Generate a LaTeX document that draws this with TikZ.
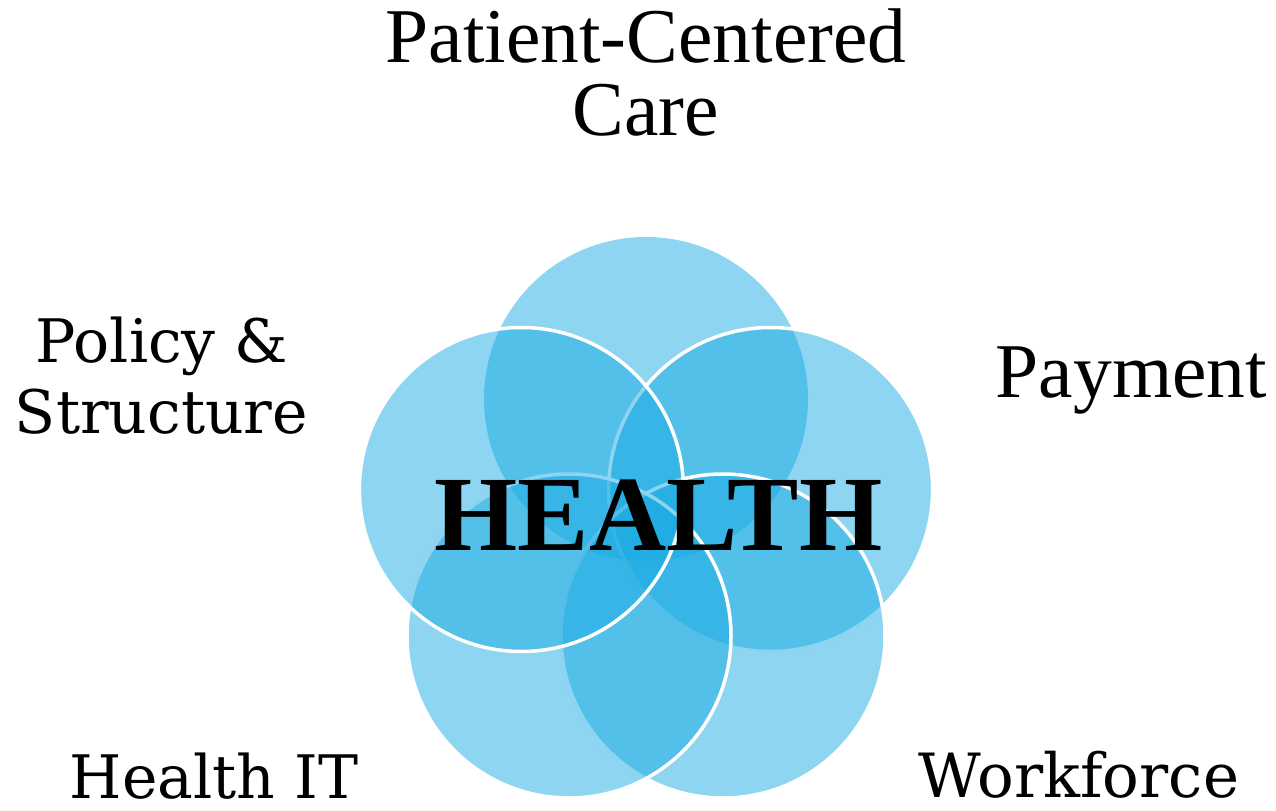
\documentclass[tikz,border=0pt]{standalone}
\usepackage{fontspec}
\setmainfont{Liberation Serif}
\newfontfamily\georgia{DejaVu Serif}
\definecolor{cblue}{RGB}{27,171,227}
\begin{document}
\begin{tikzpicture}[x=1bp,y=-1bp,
  petal/.style={fill=cblue, fill opacity=0.5, draw=white, line width=3.5bp},
  petalplain/.style={fill=cblue, fill opacity=0.5},
  tlabel/.style={anchor=base, inner sep=0pt, font=\fontsize{77.5bp}{80bp}\selectfont},
  glabel/.style={anchor=base, inner sep=0pt, font=\georgia\fontsize{60bp}{64bp}\selectfont},
  hlabel/.style={anchor=base, inner sep=0pt, font=\bfseries\fontsize{107bp}{110bp}\selectfont}
  ]
\useasboundingbox (0,0) rectangle (1276,811);
\coordinate (ctop) at (646,399);
\coordinate (cright) at (770.6,489.5);
\coordinate (cbr) at (723,636);
\coordinate (cbl) at (569,636);
\coordinate (cleft) at (521.4,489.5);
\path[petalplain] (ctop) circle[radius=162];
\path[petal] (cright) circle[radius=162];
\path[petal] (cbr) circle[radius=162];
\path[petal] (cbl) circle[radius=162];
\path[petal] (cleft) circle[radius=162];
\node[tlabel] (pcc1) at (646,63) {Patient-Centered};
\node[tlabel] (pcc2) at (646,135) {Care};
\node[glabel] (pol1) at (162,362) {Policy \&};
\node[glabel] (pol2) at (161.5,433) {Structure};
\node[tlabel] (pay) at (1131.5,397) {Payment};
\node[glabel] (hit) at (214,798) {Health IT};
\node[glabel, font=\georgia\fontsize{61bp}{64bp}\selectfont] (wf) at (1079,797) {Workforce};
\node[hlabel] (health) at (658.5,550) {HEALTH};
\end{tikzpicture}
\end{document}
